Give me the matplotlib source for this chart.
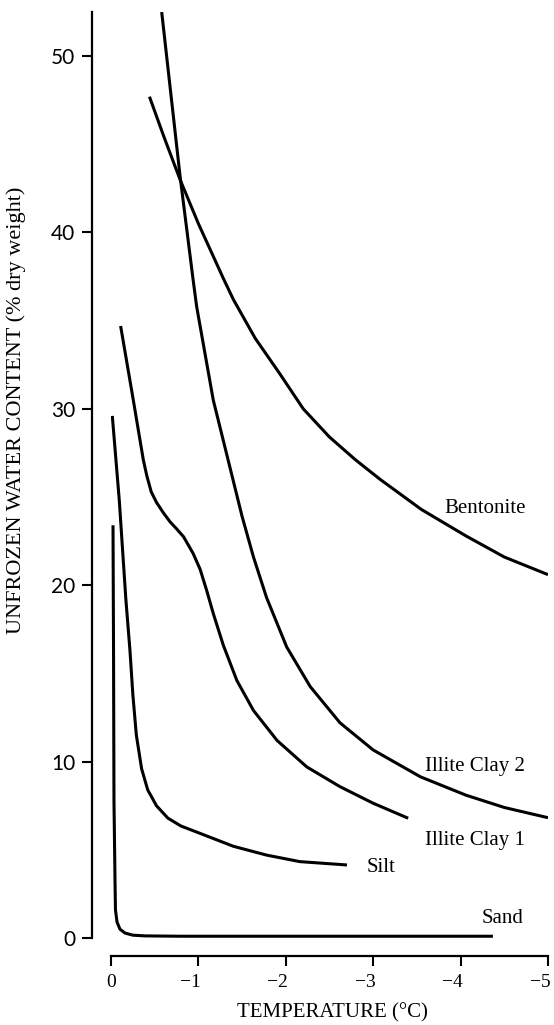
import matplotlib
matplotlib.use('Agg')
import matplotlib.pyplot as plt
from matplotlib.transforms import ScaledTranslation

# values (temperature in deg C, water content in % dry weight)
sand_t = [-0.023, -0.029, -0.034, -0.046, -0.051, -0.069, -0.103, -0.16, -0.25, -0.39, -0.79, -1.5, -2.5, -3.5, -4.37]
sand_w = [23.4, 16.3, 7.8, 3.2, 1.6, 0.9, 0.5, 0.28, 0.16, 0.12, 0.1, 0.1, 0.1, 0.1, 0.1]

silt_t = [-0.015, -0.095, -0.17, -0.217, -0.25, -0.29, -0.35, -0.42, -0.52, -0.65, -0.8, -1.02,
          -1.4, -1.78, -2.16, -2.70]
silt_w = [29.6, 24.8, 19.2, 16.3, 13.8, 11.5, 9.6, 8.4, 7.5, 6.8, 6.35, 5.93,
          5.2, 4.7, 4.33, 4.14]

clay1_t = [-0.11, -0.255, -0.37, -0.41, -0.46, -0.52, -0.6, -0.675, -0.75, -0.83, -0.94, -1.02, -1.095,
           -1.17, -1.285, -1.44, -1.63, -1.90, -2.24, -2.62, -3.0, -3.40]
clay1_w = [34.7, 30.5, 27.1, 26.2, 25.3, 24.7, 24.1, 23.6, 23.2, 22.75, 21.8, 20.9, 19.7,
           18.4, 16.6, 14.6, 12.9, 11.2, 9.7, 8.58, 7.64, 6.79]

clay2_t = [-0.58, -0.79, -0.94, -0.98, -1.17, -1.36, -1.5, -1.63, -1.78, -2.01, -2.28, -2.62,
           -3.0, -3.54, -4.06, -4.5, -5.0]
clay2_w = [52.5, 43.2, 37.3, 35.8, 30.5, 26.7, 23.9, 21.6, 19.3, 16.5, 14.25, 12.2,
           10.66, 9.14, 8.1, 7.4, 6.82]

bent_t = [-0.44, -0.6, -0.79, -1.0, -1.285, -1.40, -1.65, -1.93, -2.2, -2.5, -2.8, -3.08,
          -3.55, -4.06, -4.5, -5.0]
bent_w = [47.7, 45.5, 43.0, 40.5, 37.4, 36.2, 34.0, 32.0, 30.0, 28.4, 27.1, 26.0,
          24.3, 22.8, 21.6, 20.6]

series = [(sand_t, sand_w), (silt_t, silt_w), (clay1_t, clay1_w), (clay2_t, clay2_w), (bent_t, bent_w)]

curve_names = ['Bentonite', 'Illite Clay 2', 'Illite Clay 1', 'Silt', 'Sand']
name_t = [-3.81, -3.59, -3.59, -2.92, -4.24]
name_w = [24.35, 9.7, 5.5, 3.97, 1.13]

x_ticks = [0, -1, -2, -3, -4, -5]
y_ticks = [0, 10, 20, 30, 40, 50]

serif = 'Liberation Serif'

fig = plt.figure(figsize=(5.54, 10.25), dpi=100)
ax = fig.add_axes([111 / 554, 87 / 1025, 437 / 554, 926 / 1025])

for t, w in series:
    ax.plot(t, w, color='black', lw=2.2, solid_capstyle='butt', solid_joinstyle='round')

for name, t, w in zip(curve_names, name_t, name_w):
    ax.text(t, w, name, ha='left', va='center', fontsize=15, family=serif)

ax.set_xlim(0, -5)
ax.set_ylim(0, 52.5)

ax.spines['top'].set_visible(False)
ax.spines['right'].set_visible(False)
ax.spines['left'].set_position(('outward', 13.7))
ax.spines['bottom'].set_position(('outward', 13))
ax.spines['left'].set_linewidth(1.6)
ax.spines['bottom'].set_linewidth(1.6)

ax.set_xticks(x_ticks)
ax.set_yticks(y_ticks)
ax.set_xticklabels(['0' if v == 0 else '\u2212%d' % -v for v in x_ticks], family=serif, fontsize=14)
ax.set_yticklabels([str(v) for v in y_ticks], family='Lato', fontsize=15)
ax.tick_params(axis='both', length=7, width=1.5, color='black')
ax.tick_params(axis='x', pad=6)
ax.tick_params(axis='y', pad=5)

# the minus sign hangs to the left, the digit sits under its tick
shift = ScaledTranslation(-8 / 100, 0, fig.dpi_scale_trans)
for v, lab in zip(x_ticks, ax.get_xticklabels()):
    if v != 0:
        lab.set_transform(lab.get_transform() + shift)

fig.text(332 / 554, 1 - 1013 / 1025, 'TEMPERATURE (\u00b0C)', ha='center', va='center',
         fontsize=15, family=serif)
fig.text(16 / 554, 1 - 410 / 1025, 'UNFROZEN WATER CONTENT (% dry weight)', ha='center', va='center',
         rotation=90, fontsize=16, family=serif)

fig.savefig('out.png', dpi=100)
